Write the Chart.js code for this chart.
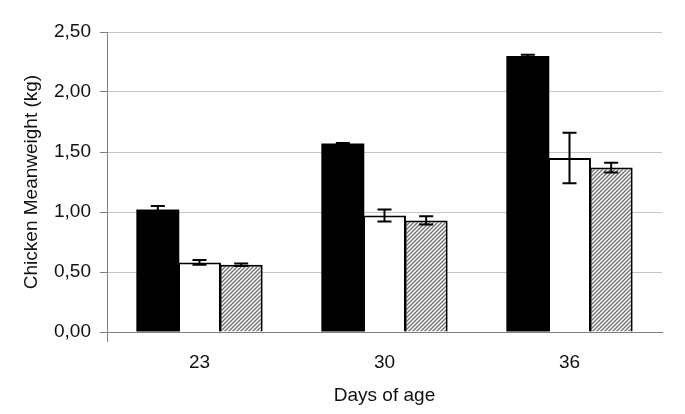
<!DOCTYPE html>
<html>
<head>
<meta charset="utf-8">
<script src="https://cdn.jsdelivr.net/npm/chart.js@4"></script>
<style>
  html, body { margin: 0; padding: 0; background: #fff; }
  #wrap { width: 685px; height: 414px; }
</style>
</head>
<body>
<div id="wrap"><canvas id="grafico1"></canvas></div>
<script>
// datos
var dias = ['23', '30', '36'];
var serieNegra = [1.02, 1.57, 2.30];
var errNegra = [0.03, 0.005, 0.01];
var serieBlanca = [0.58, 0.97, 1.45];
var errBlanca = [0.02, 0.05, 0.21];
var serieRayada = [0.56, 0.93, 1.37];
var errRayada = [0.01, 0.035, 0.04];
var ticksY = ['0,00', '0,50', '1,00', '1,50', '2,00', '2,50'];

// patron de rayas diagonales
function crearRayado() {
    var c = document.createElement('canvas');
    c.width = 4; c.height = 4;
    var g = c.getContext('2d');
    g.fillStyle = '#fff';
    g.fillRect(0, 0, 4, 4);
    g.strokeStyle = '#6e6e6e';
    g.lineWidth = 1.3;
    g.beginPath();
    g.moveTo(0, 4); g.lineTo(4, 0);
    g.moveTo(-1, 1); g.lineTo(1, -1);
    g.moveTo(3, 5); g.lineTo(5, 3);
    g.stroke();
    return g.createPattern(c, 'repeat');
}

// barras de error
var barrasError = {
    id: 'barrasError',
    afterDatasetsDraw: function (chart) {
        var ctx = chart.ctx;
        var y = chart.scales.y;
        ctx.save();
        ctx.strokeStyle = '#000';
        ctx.lineWidth = 2;
        chart.data.datasets.forEach(function (ds, i) {
            var meta = chart.getDatasetMeta(i);
            meta.data.forEach(function (bar, j) {
                var v = ds.data[j], e = ds.errores[j];
                var y1 = y.getPixelForValue(v + e);
                var y2 = y.getPixelForValue(v - e);
                var x = bar.x;
                ctx.beginPath();
                ctx.moveTo(x, y1); ctx.lineTo(x, y2);
                ctx.moveTo(x - 7, y1); ctx.lineTo(x + 7, y1);
                ctx.moveTo(x - 7, y2); ctx.lineTo(x + 7, y2);
                ctx.stroke();
            });
        });
        ctx.restore();
    }
};

var fuente = { family: 'Liberation Sans', size: 19 };

var ctx = document.getElementById('grafico1').getContext('2d');
var grafico1 = new Chart(ctx, {
    type: 'bar',
    data: {
        labels: dias,
        datasets: [
            { data: serieNegra, errores: errNegra, backgroundColor: '#000', borderColor: '#000', borderWidth: 0 },
            { data: serieBlanca, errores: errBlanca, backgroundColor: '#fff', borderColor: '#000', borderWidth: 2 },
            { data: serieRayada, errores: errRayada, backgroundColor: crearRayado(), borderColor: '#000', borderWidth: 2 }
        ]
    },
    options: {
        responsive: true,
        maintainAspectRatio: false,
        animation: false,
        layout: { padding: { top: 32, right: 23, left: 0, bottom: 0 } },
        datasets: { bar: { categoryPercentage: 0.676, barPercentage: 1.03 } },
        plugins: { legend: { display: false }, tooltip: { enabled: false } },
        scales: {
            x: {
                offset: true,
                afterFit: function (s) { s.height = 82; },
                grid: {
                    offset: true,
                    drawOnChartArea: true,
                    tickLength: 10,
                    color: function (c) { return (c.index === 0 || c.index === dias.length) ? '#808080' : 'rgba(0,0,0,0)'; }
                },
                border: { display: true, color: '#808080', width: 1 },
                ticks: { font: fuente, color: '#111', padding: 9 },
                title: { display: true, text: 'Days of age', font: fuente, color: '#111', padding: { top: 0, bottom: 7 } }
            },
            y: {
                min: 0,
                max: 2.5,
                afterFit: function (s) { s.width = 107; },
                afterBuildTicks: function (s) {
                    s.ticks = ticksY.map(function (t, i) { return { value: i * 0.5 }; });
                },
                grid: { color: '#c4c4c4', tickColor: '#808080', tickLength: 7 },
                border: { display: true, color: '#808080', width: 1 },
                ticks: {
                    font: fuente, color: '#111', padding: 9,
                    callback: function (v, i) { return ticksY[i]; }
                },
                title: { display: true, text: 'Chicken Meanweight (kg)', font: fuente, color: '#111', padding: { top: 20, bottom: 0 } }
            }
        }
    },
    plugins: [barrasError]
});
</script>
</body>
</html>
